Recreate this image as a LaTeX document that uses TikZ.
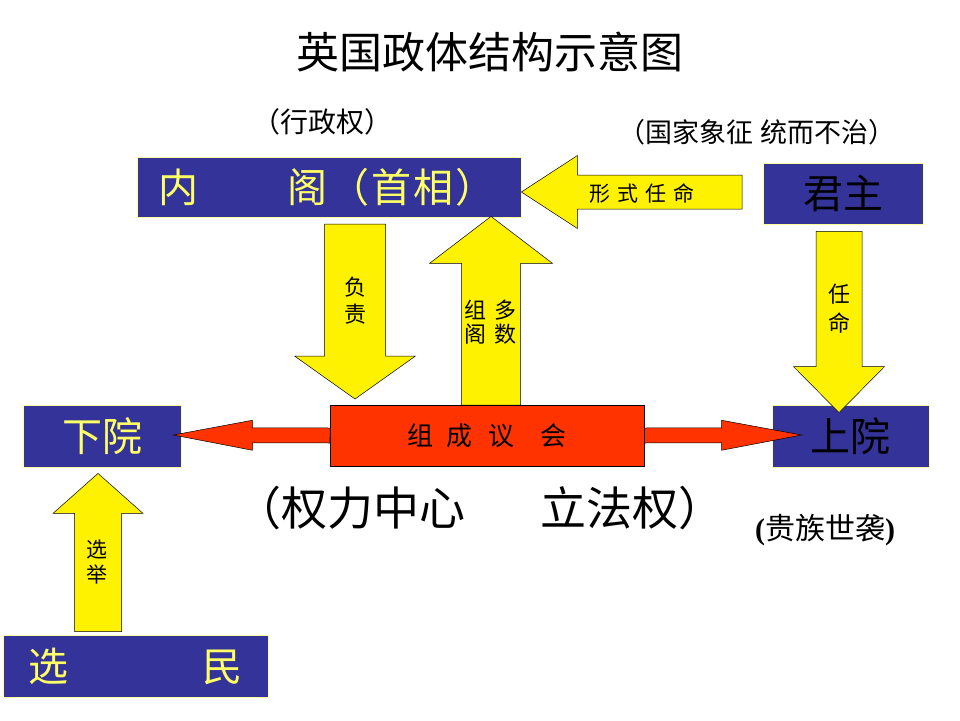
\documentclass[tikz,border=0pt]{standalone}
\usepackage{fontspec}
\setmainfont{Liberation Serif}
\newfontfamily\cjk{Noto Sans CJK SC}
\usetikzlibrary{calc}
\definecolor{boxblue}{HTML}{333399}
\definecolor{boxedge}{HTML}{FFFF99}
\definecolor{boxtext}{HTML}{FFFF66}
\definecolor{redfill}{HTML}{FF3300}
\newcommand{\cjkfs}[2]{\cjk\fontsize{#1}{#2}\selectfont}
% #1 style, #2 tail, #3 tip, #4 shaft half width, #5 head half width, #6 head length
\newcommand{\myblockarrow}[6]{%
  \coordinate (ba-h) at ($(#3)!#6!(#2)$);
  \draw[#1] ($(#2)!#4!90:(#3)$) -- ($(ba-h)!#4!90:(#3)$) -- ($(ba-h)!#5!90:(#3)$)
    -- (#3) -- ($(ba-h)!#5!-90:(#3)$) -- ($(ba-h)!#4!-90:(#3)$) -- ($(#2)!#4!-90:(#3)$) -- cycle;}
\tikzset{
  box/.style={draw=boxedge, line width=0.8pt, fill=boxblue, inner sep=0pt, minimum height=61pt},
  lbl/.style={inner sep=0pt, align=center},
  yarrow/.style={fill=yellow, draw=black, line width=0.5pt, line join=miter},
  rarrow/.style={fill=redfill, draw=black, line width=0.5pt, line join=miter},
  redbox/.style={fill=redfill, draw=black, line width=0.6pt, inner sep=0pt}
}
\begin{document}
\begin{tikzpicture}[x=1pt,y=-1pt]
\fill[white] (0,0) rectangle (960,720);
\useasboundingbox (0,0) rectangle (960,720);

% title and notes
\node[lbl, font=\cjkfs{43}{50}] (title) at (490,52) {英国政体结构示意图};
\node[lbl, font=\cjkfs{28}{32}] (xzq) at (322,122) {（行政权）};
\node[lbl, font=\cjkfs{27}{30}] (gjxz) at (757,132) {（国家象征 统而不治）};

% boxes
\node[box, minimum width=384pt, minimum height=60pt, text width=384pt, align=left,
      text=boxtext, font=\cjkfs{40}{48}] (cab) at (329,187)
  {\hspace*{21pt}内\hspace{90pt}阁\hspace{2pt}（\hspace{2pt}首\hspace{2pt}相\hspace{2pt}）};
\node[box, minimum width=160pt, text=black, font=\cjkfs{40}{48}] (king) at (843,193.5) {君主};
\node[box, minimum width=158pt, minimum height=62pt, text=boxtext, font=\cjkfs{40}{48}] (lower) at (102,436) {下院};
\node[box, minimum width=157pt, minimum height=62pt, text=black, font=\cjkfs{40}{48}] (upper) at (850.5,436) {上院};
\node[box, minimum width=265pt, minimum height=62pt, text width=265pt, align=left,
      text=boxtext, font=\cjkfs{40}{48}] (voter) at (135.5,666) {\hspace*{25pt}选\hspace{134pt}民};

% red parliament box position (drawn later)
\coordinate (redc) at (487,435.5);
\coordinate (redw) at (330,435.5);
\coordinate (rede) at (644,435.5);

% yellow arrows
\coordinate (fz-t) at (355,224);
\coordinate (fz-h) at (355,399);
\myblockarrow{yarrow}{fz-t}{fz-h}{30.5pt}{60.5pt}{43pt}
\coordinate (zg-t) at (491,405);
\coordinate (zg-h) at ($(cab.south)+(162,-1)$);
\myblockarrow{yarrow}{zg-t}{zg-h}{29.5pt}{61.5pt}{47pt}
\coordinate (xs-t) at (742,192);
\coordinate (xs-h) at ($(cab.east)+(0,5)$);
\myblockarrow{yarrow}{xs-t}{xs-h}{17pt}{36.5pt}{56pt}
\coordinate (rm-t) at ($(king.south)+(-4,7)$);
\coordinate (rm-h) at ($(upper.north)+(-11.5,8)$);
\myblockarrow{yarrow}{rm-t}{rm-h}{23pt}{45.5pt}{46pt}
\coordinate (xj-t) at ($(voter.north)+(-37.5,-3)$);
\coordinate (xj-h) at ($(lower.south)+(-4,6)$);
\myblockarrow{yarrow}{xj-t}{xj-h}{23.5pt}{45pt}{40pt}

% red arrows
\coordinate (rl-h) at ($(lower.east)+(-8,-1)$);
\myblockarrow{rarrow}{redw}{rl-h}{7.5pt}{15pt}{79pt}
\coordinate (rr-h) at ($(upper.west)+(30,-1)$);
\myblockarrow{rarrow}{rede}{rr-h}{7.5pt}{15pt}{80pt}

% parliament box
\node[redbox, minimum width=314pt, minimum height=61pt, font=\cjkfs{26}{30}] (red) at (redc)
  {组\hspace{14pt}成\hspace{16pt}议\hspace{26pt}会};

% arrow labels
\node[lbl, font=\cjkfs{22}{27}] (fzl) at (355,301) {负\\责};
\node[lbl, font=\cjkfs{22}{24}] (zgl) at (475,322) {组\\阁};
\node[lbl, font=\cjkfs{22}{24}] (dsl) at (505,322) {多\\数};
\node[lbl, font=\cjkfs{21}{25}] (xsl) at (642,193) {形\hspace{7pt}式\hspace{7pt}任\hspace{7pt}命};
\node[lbl, font=\cjkfs{22}{29}] (rml) at (839,309) {任\\命};
\node[lbl, font=\cjkfs{21}{25}] (xjl) at (97,562) {选\\举};

% big texts
\node[lbl, anchor=east, font=\cjkfs{46}{52}] (qlzx) at (466,508) {（权力中心};
\node[lbl, anchor=west, font=\cjkfs{46}{52}] (lfq) at (540,508) {立法权）};
\node[lbl, font=\cjkfs{30}{34}] (gzsx) at (825,530) {\rmfamily\bfseries(\cjk\mdseries 贵族世袭\rmfamily\bfseries)};
\end{tikzpicture}
\end{document}
